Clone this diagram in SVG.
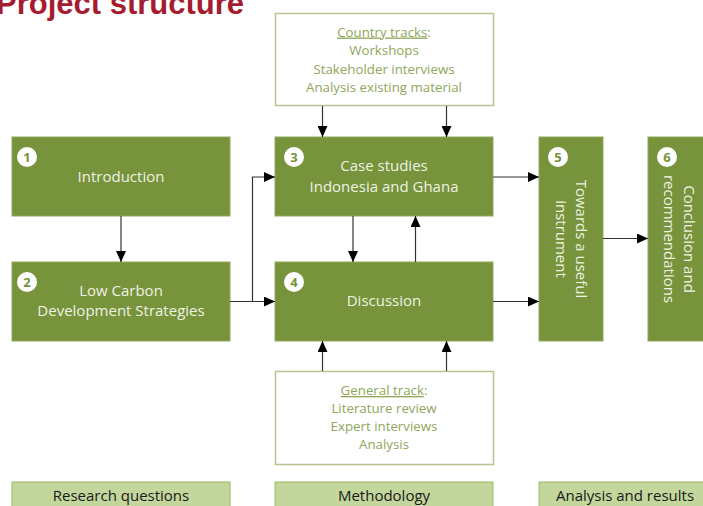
<svg xmlns="http://www.w3.org/2000/svg" width="703" height="506" viewBox="0 0 703 506">
<style>
.box{fill:#77933c;stroke:#8fa95a;stroke-width:1}
.wt{font-family:"Open Sans","Liberation Sans",sans-serif;font-size:15px;fill:#eef2e2;text-anchor:middle}
.num{font-family:"Open Sans","Liberation Sans",sans-serif;font-size:13px;font-weight:bold;fill:#77933c;text-anchor:middle}
.circ{fill:#ffffff}
.track{fill:#ffffff;stroke:#b3c68f;stroke-width:1.5}
.tt{font-family:"Open Sans","Liberation Sans",sans-serif;font-size:13.3px;fill:#8ea75a;text-anchor:middle}
.lab{fill:#c3d69b;stroke:#9db864;stroke-width:1}
.lt{font-family:"Open Sans","Liberation Sans",sans-serif;font-size:15px;fill:#1a1a1a;text-anchor:middle}
.con{fill:none;stroke:#333333;stroke-width:1.2}
</style>
<defs>
<marker id="arr" markerWidth="11" markerHeight="10" refX="11" refY="5" orient="auto" markerUnits="userSpaceOnUse">
<path d="M0,0 L11,5 L0,10 z" fill="#000000"/>
</marker>
</defs>
<text x="-4" y="14" font-family="'Liberation Sans',Arial,sans-serif" font-size="31" font-weight="bold" fill="#a51c30">Project structure</text>

<g id="country-tracks">
<rect class="track" x="275.5" y="13.5" width="218" height="92"/>
<text class="tt" x="384" y="36.5"><tspan text-decoration="underline">Country tracks</tspan>:</text>
<text class="tt" x="384" y="55">Workshops</text>
<text class="tt" x="384" y="73.5">Stakeholder interviews</text>
<text class="tt" x="384" y="92">Analysis existing material</text>
</g>

<g id="general-track">
<rect class="track" x="275.5" y="371.5" width="218" height="93"/>
<text class="tt" x="384" y="395"><tspan text-decoration="underline">General track</tspan>:</text>
<text class="tt" x="384" y="413">Literature review</text>
<text class="tt" x="384" y="431">Expert interviews</text>
<text class="tt" x="384" y="449">Analysis</text>
</g>

<g id="node1">
<rect class="box" x="12" y="137" width="218" height="79"/>
<circle class="circ" cx="27" cy="157" r="10"/>
<text class="num" x="27" y="161.5">1</text>
<text class="wt" x="121" y="182">Introduction</text>
</g>

<g id="node2">
<rect class="box" x="12" y="262" width="218" height="79"/>
<circle class="circ" cx="27" cy="282" r="10"/>
<text class="num" x="27" y="286.5">2</text>
<text class="wt" x="121" y="296">Low Carbon</text>
<text class="wt" x="121" y="316">Development Strategies</text>
</g>

<g id="node3">
<rect class="box" x="275" y="137" width="218" height="79"/>
<circle class="circ" cx="294" cy="157" r="10"/>
<text class="num" x="294" y="161.5">3</text>
<text class="wt" x="384" y="171">Case studies</text>
<text class="wt" x="384" y="192">Indonesia and Ghana</text>
</g>

<g id="node4">
<rect class="box" x="275" y="262" width="218" height="79"/>
<circle class="circ" cx="294" cy="282" r="10"/>
<text class="num" x="294" y="286.5">4</text>
<text class="wt" x="384" y="306">Discussion</text>
</g>

<g id="node5">
<rect class="box" x="539" y="137" width="64" height="204"/>
<circle class="circ" cx="558" cy="157" r="10"/>
<text class="num" x="558" y="161.5">5</text>
<text class="wt" transform="translate(576,239) rotate(90)">Towards a useful</text>
<text class="wt" transform="translate(556,239) rotate(90)">instrument</text>
</g>

<g id="node6">
<rect class="box" x="648" y="137" width="70" height="204"/>
<circle class="circ" cx="667" cy="157" r="10"/>
<text class="num" x="667" y="161.5">6</text>
<text class="wt" transform="translate(684,239) rotate(90)">Conclusion and</text>
<text class="wt" transform="translate(664,239) rotate(90)">recommendations</text>
</g>

<g id="label-research">
<rect class="lab" x="12" y="482" width="218" height="30"/>
<text class="lt" x="121" y="501">Research questions</text>
</g>
<g id="label-methodology">
<rect class="lab" x="275" y="482" width="218" height="30"/>
<text class="lt" x="384" y="501">Methodology</text>
</g>
<g id="label-analysis">
<rect class="lab" x="539" y="482" width="180" height="30"/>
<text class="lt" x="625" y="501">Analysis and results</text>
</g>

<g id="connectors">
<line class="con" x1="121" y1="216" x2="121" y2="262" marker-end="url(#arr)"/>
<line class="con" x1="230" y1="301.5" x2="275" y2="301.5" marker-end="url(#arr)"/>
<polyline class="con" points="252.5,301.5 252.5,177 275,177" marker-end="url(#arr)"/>
<line class="con" x1="322.5" y1="106" x2="322.5" y2="137" marker-end="url(#arr)"/>
<line class="con" x1="446.5" y1="106" x2="446.5" y2="137" marker-end="url(#arr)"/>
<line class="con" x1="322.5" y1="371" x2="322.5" y2="341" marker-end="url(#arr)"/>
<line class="con" x1="446.5" y1="371" x2="446.5" y2="341" marker-end="url(#arr)"/>
<line class="con" x1="353" y1="216" x2="353" y2="262" marker-end="url(#arr)"/>
<line class="con" x1="415.5" y1="262" x2="415.5" y2="216" marker-end="url(#arr)"/>
<line class="con" x1="493" y1="177" x2="539" y2="177" marker-end="url(#arr)"/>
<line class="con" x1="493" y1="301.5" x2="539" y2="301.5" marker-end="url(#arr)"/>
<line class="con" x1="603" y1="238.5" x2="648" y2="238.5" marker-end="url(#arr)"/>
</g>
</svg>
